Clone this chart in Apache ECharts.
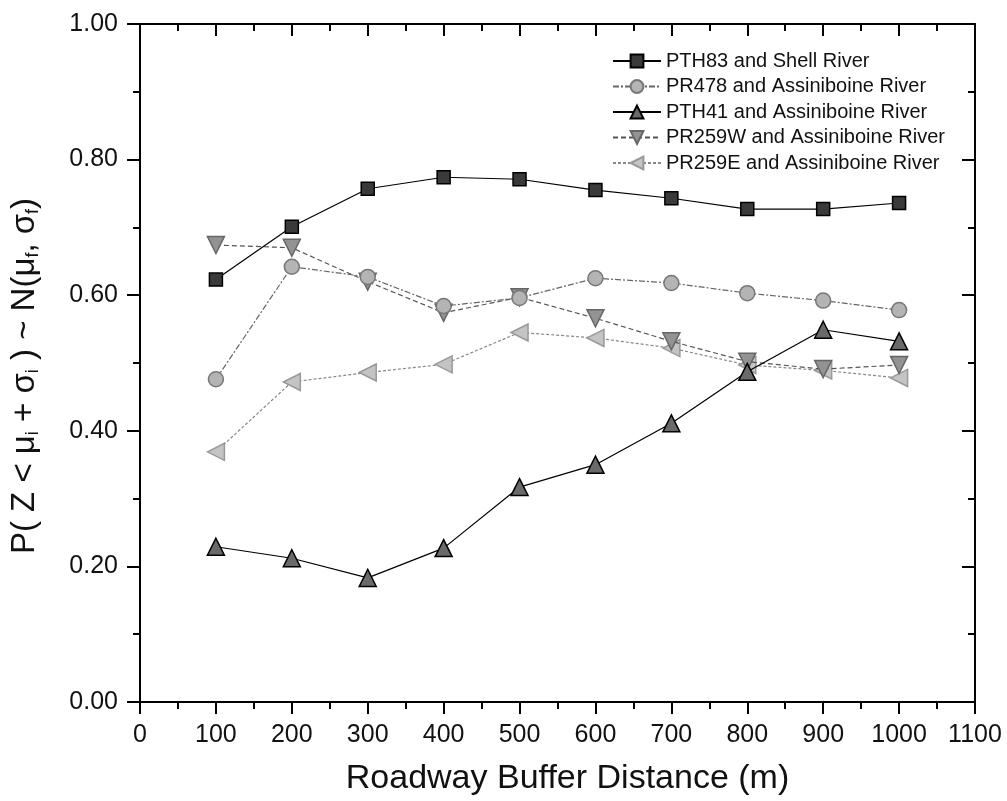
<!DOCTYPE html>
<html><head><meta charset="utf-8">
<script src="https://cdn.jsdelivr.net/npm/echarts@6/dist/echarts.min.js"></script>
<style>html,body{margin:0;padding:0;background:#fff}#c{width:1007px;height:801px}</style>
</head><body><div id="c"></div>
<script>
const distances = [100, 200, 300, 400, 500, 600, 700, 800, 900, 1000];
const seriesNames = [
  'PTH83 and Shell River',
  'PR478 and Assiniboine River',
  'PTH41 and Assiniboine River',
  'PR259W and Assiniboine River',
  'PR259E and Assiniboine River'
];
const pth83 = [0.623, 0.701, 0.757, 0.774, 0.771, 0.755, 0.743, 0.727, 0.727, 0.736];
const pr478 = [0.476, 0.642, 0.627, 0.584, 0.596, 0.625, 0.618, 0.603, 0.592, 0.578];
const pth41 = [0.229, 0.212, 0.183, 0.227, 0.317, 0.350, 0.411, 0.487, 0.549, 0.532];
const pr259w = [0.674, 0.670, 0.620, 0.574, 0.597, 0.566, 0.532, 0.502, 0.491, 0.497];
const pr259e = [0.369, 0.472, 0.486, 0.498, 0.545, 0.537, 0.522, 0.497, 0.489, 0.478];
const xTicks = [0, 100, 200, 300, 400, 500, 600, 700, 800, 900, 1000, 1100];
const yTicks = [0.0, 0.2, 0.4, 0.6, 0.8, 1.0];

const FONT = 'Liberation Sans, Arial, sans-serif';
const pairs = arr => distances.map((d, i) => [d, arr[i]]);

const styles = [
  {symbol: 'rect', size: 13, rot: 0, fill: '#3a3a3a', border: '#000', line: '#000', type: 'solid'},
  {symbol: 'circle', size: 15, rot: 0, fill: '#b4b4b4', border: '#777', line: '#666', type: [6, 2, 2, 2]},
  {symbol: 'triangle', size: 17, rot: 0, fill: '#6a6a6a', border: '#000', line: '#000', type: 'solid'},
  {symbol: 'triangle', size: 17, rot: 180, fill: '#939393', border: '#666', line: '#555', type: [5, 3]},
  {symbol: 'triangle', size: 17, rot: 90, fill: '#c4c4c4', border: '#999', line: '#888', type: [3, 2]}
];
const dataSets = [pth83, pr478, pth41, pr259w, pr259e];

const chart = echarts.init(document.getElementById('c'));
const axisLine = {show: true, onZero: false, lineStyle: {color: '#000', width: 2}};
chart.setOption({
  animation: false,
  backgroundColor: '#fff',
  textStyle: {fontFamily: FONT},
  grid: {left: 140, right: 32, top: 24, bottom: 99, containLabel: false},
  legend: {
    orient: 'vertical', left: 612, top: 51, padding: 0,
    itemWidth: 48, itemHeight: 16, itemGap: 5.5,
    textStyle: {fontSize: 20, color: '#111', fontFamily: FONT, lineHeight: 20},
    data: seriesNames
  },
  xAxis: [{
    type: 'value', min: xTicks[0], max: xTicks[xTicks.length - 1], interval: 100,
    position: 'bottom',
    axisLine: axisLine,
    axisTick: {show: true, inside: false, length: 12, lineStyle: {color: '#000', width: 2}},
    minorTick: {show: true, splitNumber: 2, length: 7, lineStyle: {color: '#000', width: 2}},
    splitLine: {show: false},
    axisLabel: {fontSize: 25, color: '#111', margin: 21, fontFamily: FONT, formatter: v => String(v)},
    name: 'Roadway Buffer Distance (m)', nameLocation: 'middle', nameGap: 60,
    nameTextStyle: {fontSize: 34, color: '#111', fontFamily: FONT, padding: [0, 0, 0, 20]}
  }, {
    type: 'value', min: xTicks[0], max: xTicks[xTicks.length - 1], interval: 100,
    position: 'top',
    axisLine: axisLine,
    axisTick: {show: true, inside: true, length: 12, lineStyle: {color: '#000', width: 2}},
    minorTick: {show: true, splitNumber: 2, length: 7, lineStyle: {color: '#000', width: 2}},
    splitLine: {show: false},
    axisLabel: {show: false}
  }],
  yAxis: [{
    type: 'value', min: yTicks[0], max: yTicks[yTicks.length - 1], interval: 0.2,
    position: 'left',
    axisLine: axisLine,
    axisTick: {show: true, inside: false, length: 13, lineStyle: {color: '#000', width: 2}},
    minorTick: {show: true, splitNumber: 2, length: 7, lineStyle: {color: '#000', width: 2}},
    splitLine: {show: false},
    axisLabel: {fontSize: 25, color: '#111', margin: 22, fontFamily: FONT, formatter: v => v.toFixed(2)},
    name: 'P( Z < μ{s|i} + σ{s|i} ) ~ N(μ{s|f}, σ{s|f})',
    nameLocation: 'middle', nameGap: 98, nameRotate: 90,
    nameTextStyle: {fontSize: 33, color: '#111', fontFamily: FONT, padding: [0, 26, 0, 0],
      rich: {s: {fontSize: 18, fontFamily: FONT, color: '#111', padding: [16, 0, 0, 0]}}}
  }, {
    type: 'value', min: yTicks[0], max: yTicks[yTicks.length - 1], interval: 0.2,
    position: 'right',
    axisLine: axisLine,
    axisTick: {show: true, inside: true, length: 13, lineStyle: {color: '#000', width: 2}},
    minorTick: {show: true, splitNumber: 2, length: 7, lineStyle: {color: '#000', width: 2}},
    splitLine: {show: false},
    axisLabel: {show: false}
  }],
  series: seriesNames.map((name, i) => ({
    name: name, type: 'line', xAxisIndex: 0, yAxisIndex: 0,
    data: pairs(dataSets[i]),
    symbol: styles[i].symbol, symbolSize: styles[i].size, symbolRotate: styles[i].rot,
    showAllSymbol: true,
    lineStyle: {color: styles[i].line, width: 1.2, type: styles[i].type},
    itemStyle: {color: styles[i].fill, borderColor: styles[i].border, borderWidth: 1.5},
    z: 10 - i
  }))
});
</script></body></html>
